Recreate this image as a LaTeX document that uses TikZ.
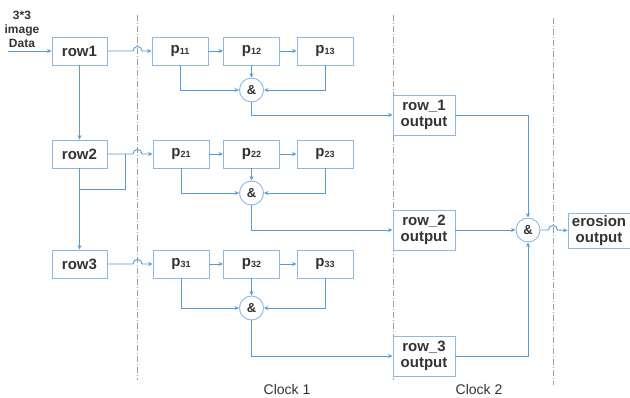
\documentclass[tikz,border=0pt]{standalone}
\usepackage{fontspec}
\setmainfont{Liberation Sans}
\usetikzlibrary{arrows.meta}
\definecolor{lnc}{HTML}{5B9BD5}
\definecolor{bxc}{HTML}{8DB8E2}
\definecolor{txc}{HTML}{333333}
\definecolor{dsc}{HTML}{A0A0A0}
\newcommand{\pp}[1]{\textbf{p}\raisebox{-1pt}{\fontsize{9}{9}\selectfont #1}}
\begin{document}
\begin{tikzpicture}[x=1pt,y=-1pt,
 blk/.style={draw=bxc, line width=0.9pt, minimum height=28pt, inner sep=0pt, text=txc, font=\fontsize{15}{16}\selectfont\bfseries},
 rowbox/.style={blk, minimum width=55pt},
 pbox/.style={blk, minimum width=56pt},
 outbox/.style={blk, minimum width=62pt, minimum height=40pt, align=center},
 andc/.style={circle, draw=bxc, line width=0.9pt, minimum size=24pt, inner sep=0pt, text=txc, font=\fontsize{13}{13}\selectfont\bfseries},
 conn/.style={draw=lnc, line width=0.9pt},
 arr/.style={conn, -{Stealth[length=4.5pt,width=4pt]}},
 clk/.style={draw=dsc, line width=0.8pt, dash pattern=on 6pt off 2pt on 1pt off 2pt},
 lbl/.style={text=txc, inner sep=0pt},
]
\useasboundingbox (0,0) rectangle (630,398);

% clock boundaries
\draw[clk] (137.5,15) -- (137.5,380);
\draw[clk] (393,15) -- (393,380);
\draw[clk] (553,18) -- (553,385);

% row buffers
\node[rowbox] (r1) at (79.5,51) {row1};
\node[rowbox] (r2) at (79.5,154) {row2};
\node[rowbox] (r3) at (79.5,264) {row3};

% pixel registers
\node[pbox] (p11) at (180,51) {\pp{11}};
\node[pbox] (p12) at (251.5,51) {\pp{12}};
\node[pbox] (p13) at (325,51) {\pp{13}};
\node[pbox] (p21) at (181,154) {\pp{21}};
\node[pbox] (p22) at (251.5,154) {\pp{22}};
\node[pbox] (p23) at (325,154) {\pp{23}};
\node[pbox] (p31) at (181,264) {\pp{31}};
\node[pbox] (p32) at (251.5,264) {\pp{32}};
\node[pbox] (p33) at (325,264) {\pp{33}};

% and gates
\node[andc] (a1) at (251.5,90) {\&};
\node[andc] (a2) at (251.5,193) {\&};
\node[andc] (a3) at (251.5,308) {\&};
\node[andc] (af) at (528,230) {\&};

% outputs
\node[outbox] (o1) at (424,115) {row\_1\\output};
\node[outbox] (o2) at (424,230) {row\_2\\output};
\node[outbox] (o3) at (424,356) {row\_3\\output};
\node[outbox, minimum height=35pt] (eo) at (599,230.5) {erosion\\output};

% input label
\node[lbl, font=\fontsize{12}{14}\selectfont\bfseries, align=center] (in) at (22,29) {3*3\\image\\Data};
\coordinate (src) at (8,51);
\draw[arr] (src) -- (r1);

% hop points
\coordinate (h1) at (137.5,51);
\coordinate (h2) at (137.5,154);
\coordinate (h3) at (137.5,264);
\coordinate (hf) at (553,230);

\foreach \r/\h/\p in {r1/h1/p11, r2/h2/p21, r3/h3/p31}{
  \draw[arr] (\r.east) -- ([xshift=-4.5pt]\h) .. controls ([xshift=-4.5pt,yshift=6pt]\h) and ([xshift=4.5pt,yshift=6pt]\h) .. ([xshift=4.5pt]\h) -- (\p.west);
}
\draw[arr] (af.east) -- ([xshift=-4.5pt]hf) .. controls ([xshift=-4.5pt,yshift=6pt]hf) and ([xshift=4.5pt,yshift=6pt]hf) .. ([xshift=4.5pt]hf) -- (eo.west);

% row chain
\draw[arr] (r1.south) -- (r2.north);
\draw[arr] (r2.south) -- (r3.north);
\coordinate (b2) at (125,154);
\coordinate (b2d) at (125,189);
\draw[conn] (b2) -- (b2d) -- (b2d -| r2.south);

% pixel chains and gates
\foreach \i/\o in {1/o1, 2/o2, 3/o3}{
  \draw[arr] (p\i1) -- (p\i2);
  \draw[arr] (p\i2) -- (p\i3);
  \draw[arr] (p\i1.south) |- (a\i.west);
  \draw[arr] (p\i2.south) -- (a\i.north);
  \draw[arr] (p\i3.south) |- (a\i.east);
  \draw[arr] (a\i.south) |- (\o.west);
}

% final gate
\draw[arr] (o1.east) -| (af.north);
\draw[arr] (o2.east) -- (af.west);
\draw[arr] (o3.east) -| (af.south);

% clock labels
\node[lbl, font=\fontsize{14}{14}\selectfont] (c1) at (287,389) {Clock 1};
\node[lbl, font=\fontsize{14}{14}\selectfont] (c2) at (479,389) {Clock 2};
\end{tikzpicture}
\end{document}
